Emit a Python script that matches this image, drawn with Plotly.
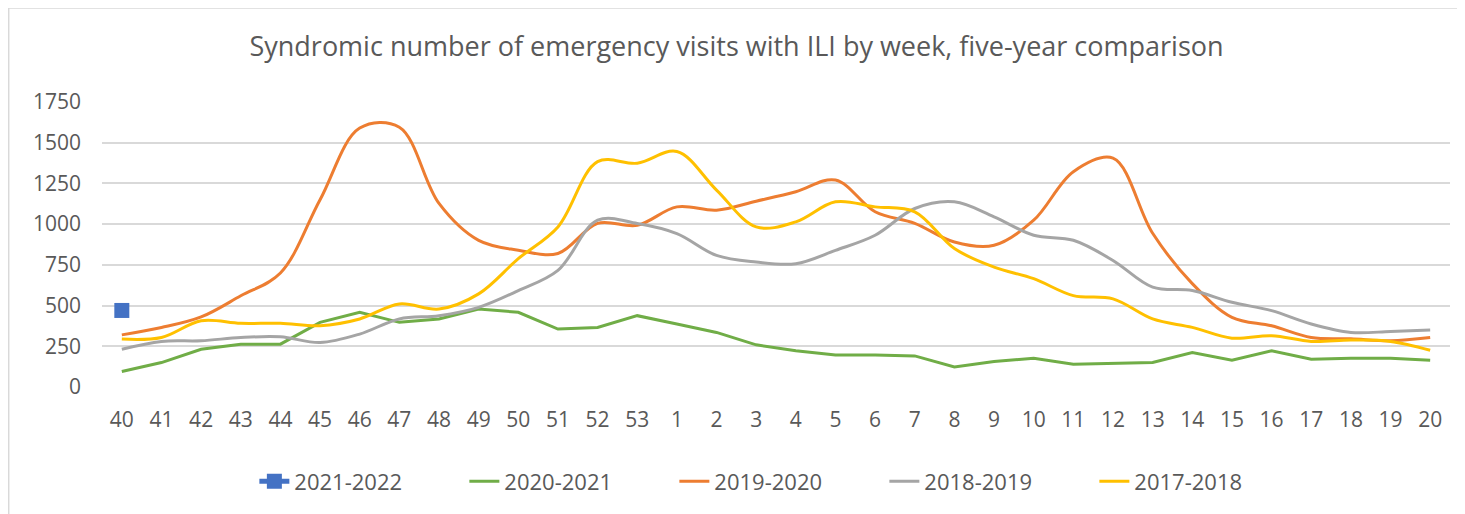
import plotly.graph_objects as go

weeks = ["40", "41", "42", "43", "44", "45", "46", "47", "48", "49", "50", "51", "52", "53",
         "1", "2", "3", "4", "5", "6", "7", "8", "9", "10", "11", "12", "13", "14", "15",
         "16", "17", "18", "19", "20"]

s2021_2022 = [470]

s2020_2021 = [95, 150, 232, 263, 263, 397, 459, 397, 418, 479, 459, 356, 366, 438,
              387, 335, 259, 222, 197, 197, 191, 123, 156, 177, 140, 144, 150, 212, 165,
              222, 171, 177, 177, 165]

s2019_2020 = [320, 365, 430, 560, 700, 1150, 1590, 1595, 1127, 900, 840, 820, 1005, 993,
              1106, 1086, 1141, 1199, 1271, 1076, 1005, 890, 870, 1024, 1322, 1405, 944, 635, 428,
              376, 304, 296, 284, 304]

s2018_2019 = [232, 280, 284, 304, 308, 273, 325, 418, 438, 489, 592, 716, 1024, 1004,
              942, 808, 767, 757, 839, 932, 1096, 1137, 1045, 932, 901, 777, 613, 592, 520,
              469, 387, 335, 341, 350]

s2017_2018 = [294, 304, 407, 391, 391, 376, 418, 510, 479, 572, 788, 983, 1384, 1374,
              1446, 1209, 983, 1014, 1137, 1106, 1076, 850, 736, 665, 561, 541, 418, 366, 300,
              315, 280, 288, 280, 226]

y_ticks = [0, 250, 500, 750, 1000, 1250, 1500, 1750]

FONT = "Open Sans"
TXT = "#595959"

fig = go.Figure()

fig.add_trace(go.Scatter(
    x=weeks[:len(s2021_2022)], y=s2021_2022, name="2021-2022",
    mode="lines+markers",
    line=dict(color="#4472C4", width=5),
    marker=dict(symbol="square", size=15, color="#4472C4"),
))

series = [
    ("2020-2021", s2020_2021, "#70AD47", "linear"),
    ("2019-2020", s2019_2020, "#ED7D31", "spline"),
    ("2018-2019", s2018_2019, "#A5A5A5", "spline"),
    ("2017-2018", s2017_2018, "#FFC000", "spline"),
]
for name, vals, col, shp in series:
    line = dict(color=col, width=3, shape=shp)
    if shp == "spline":
        line["smoothing"] = 1.0
    fig.add_trace(go.Scatter(x=weeks, y=vals, name=name, mode="lines", line=line))

# outer chart border (plot area spans 1340 x 284 px)
fig.add_shape(type="rect", xref="paper", yref="paper",
              x0=(9 - 102) / 1340, x1=(1490 - 102) / 1340,
              y0=(386 - 540) / 284, y1=(386 - 8) / 284,
              line=dict(color="#D9D9D9", width=2), layer="below")

fig.update_layout(
    width=1457, height=506,
    margin=dict(l=94, r=15, t=94, b=120),
    paper_bgcolor="white", plot_bgcolor="white",
    font=dict(family=FONT, color=TXT, size=22),
    title=dict(text="Syndromic number of emergency visits with ILI by week, five-year comparison",
               x=0.5, xref="container", y=1 - 39 / 506, yanchor="middle",
               font=dict(family=FONT, size=27, color=TXT)),
    showlegend=True,
    legend=dict(orientation="h", x=0.5025, xanchor="center", y=-0.331, yanchor="middle",
                font=dict(family=FONT, size=22, color=TXT),
                entrywidth=165, entrywidthmode="pixels", traceorder="normal"),
    xaxis=dict(type="category", categoryorder="array", categoryarray=weeks,
               range=[-0.5, len(weeks) - 0.5],
               showgrid=False, zeroline=False, showline=False, ticks="",
               tickfont=dict(family=FONT, size=21, color=TXT),
               ticklabelstandoff=18),
    yaxis=dict(range=[0, 1750], tickvals=y_ticks, showgrid=True,
               gridcolor="#D9D9D9", gridwidth=2, zeroline=False, showline=False,
               ticks="", tickfont=dict(family=FONT, size=21, color=TXT),
               ticklabelstandoff=20),
)

fig.write_html("out.html")
